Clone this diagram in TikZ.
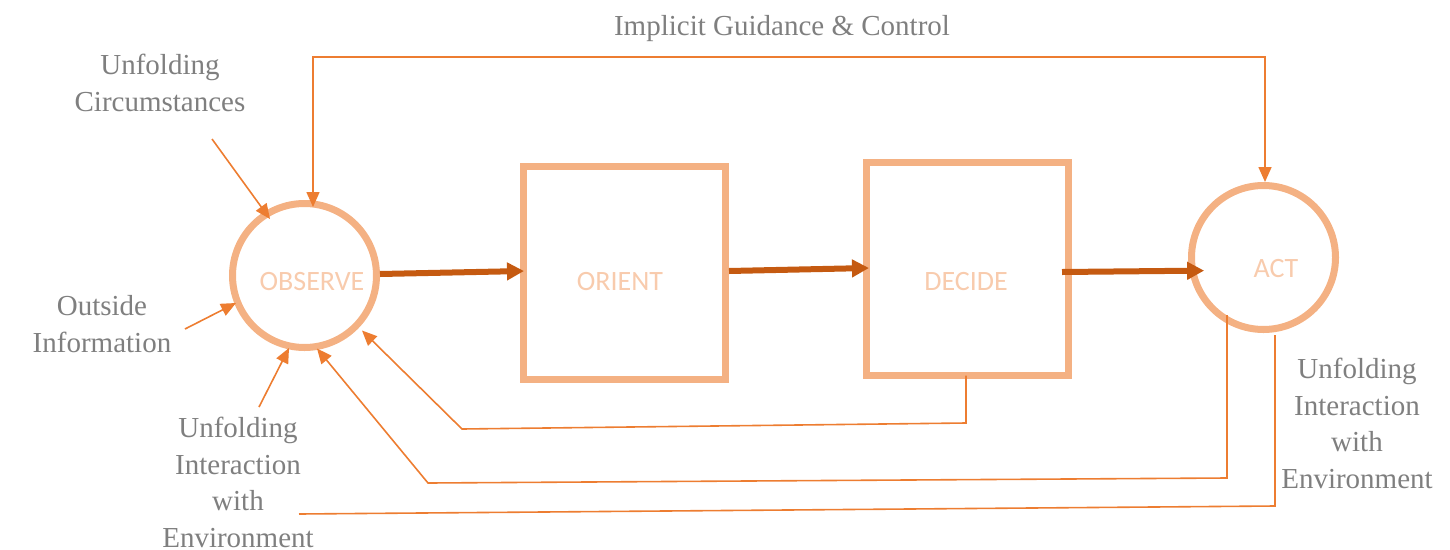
\documentclass[tikz,border=0pt]{standalone}
\usepackage{fontspec}
\setmainfont{Liberation Serif}
\newfontfamily\stagefont{Carlito}
\usetikzlibrary{arrows.meta,calc}
\definecolor{ringC}{HTML}{F4B183}
\definecolor{innerC}{HTML}{F8CBAD}
\definecolor{flowC}{HTML}{C55A11}
\definecolor{thinC}{HTML}{ED7D31}
\definecolor{noteC}{HTML}{7F7F7F}
\begin{document}
\begin{tikzpicture}[x=1pt,y=-1pt,
  stage/.style={draw=ringC, line width=7pt, inner sep=0pt},
  ringnode/.style={stage, circle, minimum size=144pt},
  boxnode/.style={stage, rectangle, minimum width=202pt, minimum height=213pt},
  tag/.style={text=innerC, inner sep=0pt, font=\stagefont\fontsize{28}{34}\selectfont},
  note/.style={text=noteC, inner sep=0pt, anchor=base, align=center, font=\fontsize{29}{36.5}\selectfont},
  flow/.style={draw=flowC, line width=6pt, -{Triangle[length=17pt,width=17pt]}},
  thintip/.tip={Triangle[length=15pt,width=13pt]},
  wire/.style={draw=thinC, line width=1.6pt},
  feed/.style={wire, -thintip},
  feedboth/.style={wire, thintip-thintip},
]
\useasboundingbox (0,0) rectangle (1450,549);

% the four stages of the loop
\node[ringnode] (obs) at (304.5,275.5) {};
\node[boxnode]  (ori) at (624.5,273) {};
\node[boxnode]  (dec) at (967.5,269) {};
\node[ringnode] (act) at (1263.5,257.5) {};

\node[tag] (obsT) at (312,282) {OBSERVE};
\node[tag] (oriT) at (620,282) {ORIENT};
\node[tag] (decT) at (966,282) {DECIDE};
\node[tag] (actT) at (1276,269) {ACT};

% main flow
\draw[flow] ([yshift=1.5pt]obs.east) -- ([xshift=4pt,yshift=2pt]ori.west);
\draw[flow] ([yshift=2pt]ori.east) -- ([xshift=6pt,yshift=1pt]dec.west);
\draw[flow] ([xshift=-10pt,yshift=-3pt]dec.east) -- ([xshift=15pt]act.190);

% labels (base anchor sits on the last line)
\node[note] (igc) at (782,35) {Implicit Guidance \& Control};
\node[note] (ucirc) at (160,111) {Unfolding\\Circumstances};
\node[note] (oinfo) at (102,352) {Outside\\Information};
\node[note] (uiwL) at (238,547) {Unfolding\\Interaction\\with\\Environment};
\node[note] (uiwR) at (1357,488) {Unfolding\\Interaction\\with\\Environment};

% implicit guidance and control
\coordinate (gtop) at (800,57);
\draw[feedboth] ($(obs.center)+(8.5,-68.5)$) |- (gtop) -| ([xshift=1.5pt]act.north);

% inputs to observe
\coordinate (ucS) at (212,139);
\coordinate (oiS) at (185,329);
\coordinate (uiS) at (259,407);
\draw[feed] (ucS) -- ($(obs.center)+(-34.5,-56.5)$);
\draw[feed] (oiS) -- ($(obs.center)+(-68.5,27.5)$);
\draw[feed] (uiS) -- ($(obs.center)+(-15.5,72.5)$);

% feedback from decide
\coordinate (d1) at (966,423);
\coordinate (d2) at (462,429);
\draw[feed] ([xshift=-1.5pt,yshift=3.5pt]dec.south) -- (d1) -- (d2) -- ($(obs.center)+(57.5,55)$);

% feedback from act
\coordinate (a1) at (1227,478);
\coordinate (a2) at (428,483);
\draw[feed] ($(act.center)+(-36.5,57.5)$) -- (a1) -- (a2) -- ($(obs.center)+(12.5,73)$);

% unfolding interaction line under the loop
\coordinate (e1) at (1275,506);
\coordinate (e2) at (299,514);
\draw[wire] ($(act.center)+(11.5,77.5)$) -- (e1) -- (e2);
\end{tikzpicture}
\end{document}
